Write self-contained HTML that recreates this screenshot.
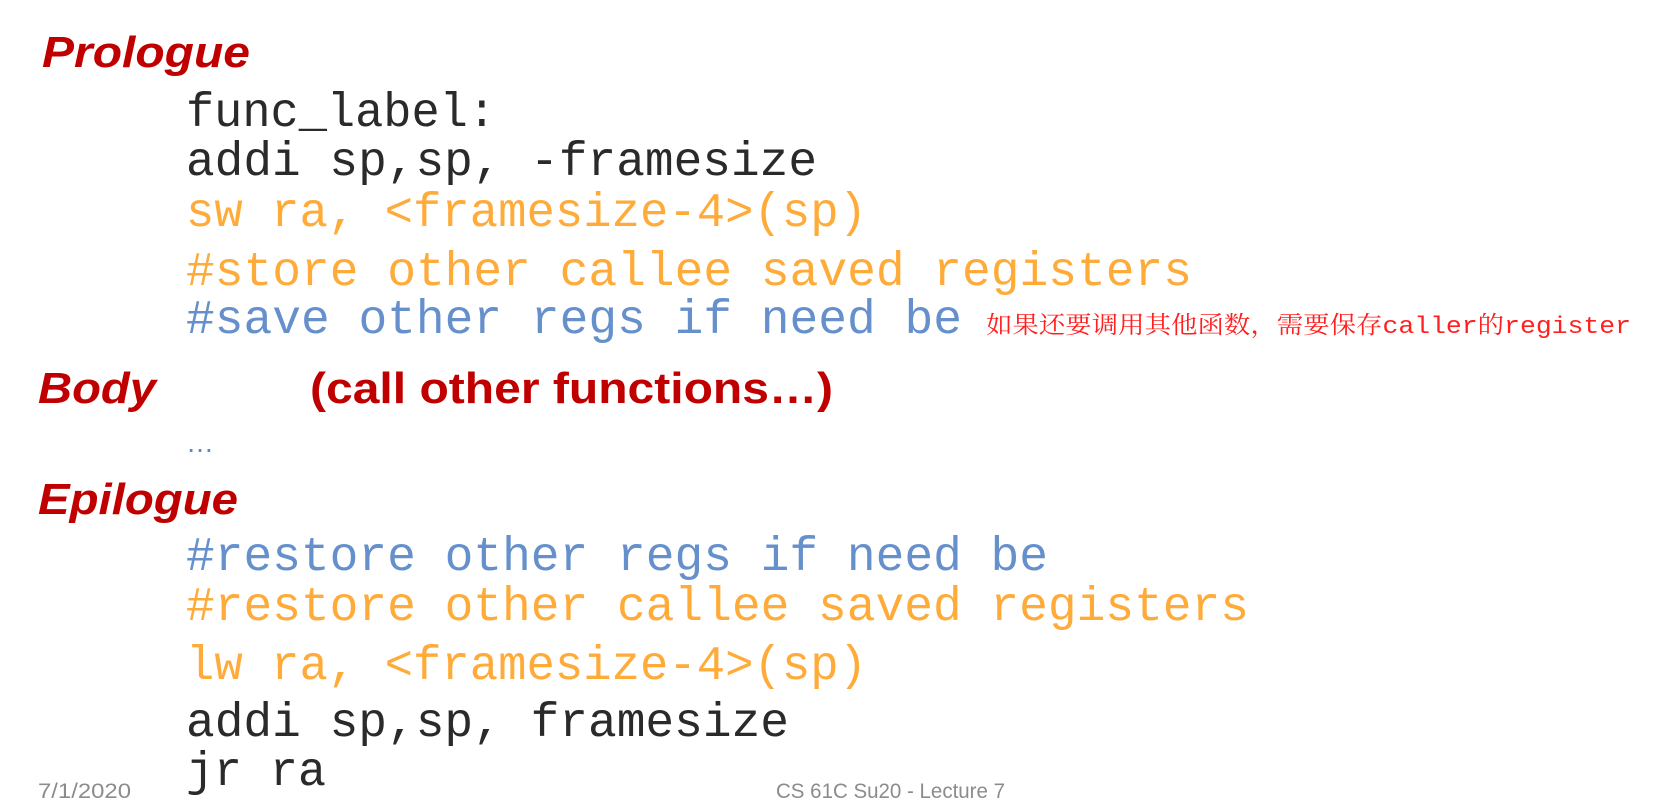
<!DOCTYPE html>
<html><head><meta charset="utf-8"><style>
html,body{margin:0;padding:0;background:#fff;}
svg{display:block;}
.h{font-family:"Liberation Sans",sans-serif;font-weight:bold;font-style:italic;fill:#c00000;}
.m{font-family:"Liberation Mono",monospace;font-size:48px;}
.k{fill:#2a2a2a}.o{fill:#ffab3a}.b{fill:#6590cc}
</style></head><body>
<svg width="1678" height="811" viewBox="0 0 1678 811" xmlns="http://www.w3.org/2000/svg">
<text class="h" x="42" y="67" font-size="44" textLength="208" lengthAdjust="spacingAndGlyphs">Prologue</text>
<text class="m k" x="186" y="126" textLength="310" lengthAdjust="spacingAndGlyphs">func_label:</text>
<text class="m k" x="186" y="175" textLength="631" lengthAdjust="spacingAndGlyphs">addi sp,sp, -framesize</text>
<text class="m o" x="186" y="226" textLength="681" lengthAdjust="spacingAndGlyphs">sw ra, &lt;framesize-4&gt;(sp)</text>
<text class="m o" x="186" y="285" textLength="1006" lengthAdjust="spacingAndGlyphs">#store other callee saved registers</text>
<text class="m b" x="186" y="333" textLength="776" lengthAdjust="spacingAndGlyphs">#save other regs if need be</text>
<text x="986" y="333" font-size="24" fill="#ff2020" font-family="'Liberation Mono','Noto Serif CJK SC',serif" textLength="645" lengthAdjust="spacingAndGlyphs">如果还要调用其他函数，需要保存caller的register</text>
<text class="h" x="38" y="403" font-size="44" textLength="118" lengthAdjust="spacingAndGlyphs">Body</text>
<text x="310" y="403" font-size="44" font-weight="bold" fill="#c00000" font-family="'Liberation Sans',sans-serif" textLength="523" lengthAdjust="spacingAndGlyphs">(call other functions…)</text>
<text x="186" y="452" font-size="28" fill="#5a88c8" font-family="'Liberation Sans',sans-serif">…</text>
<text class="h" x="38" y="514" font-size="44" textLength="200" lengthAdjust="spacingAndGlyphs">Epilogue</text>
<text class="m b" x="186" y="570" textLength="862" lengthAdjust="spacingAndGlyphs">#restore other regs if need be</text>
<text class="m o" x="186" y="620" textLength="1063" lengthAdjust="spacingAndGlyphs">#restore other callee saved registers</text>
<text class="m o" x="186" y="679" textLength="681" lengthAdjust="spacingAndGlyphs">lw ra, &lt;framesize-4&gt;(sp)</text>
<text class="m k" x="186" y="736" textLength="603" lengthAdjust="spacingAndGlyphs">addi sp,sp, framesize</text>
<text class="m k" x="186" y="785" textLength="140" lengthAdjust="spacingAndGlyphs">jr ra</text>
<text x="38" y="798" font-size="21" fill="#8c8c8c" font-family="'Liberation Sans',sans-serif" textLength="93" lengthAdjust="spacingAndGlyphs">7/1/2020</text>
<text x="776" y="798" font-size="21" fill="#8c8c8c" font-family="'Liberation Sans',sans-serif" textLength="229" lengthAdjust="spacingAndGlyphs">CS 61C Su20 - Lecture 7</text>
</svg>
</body></html>
